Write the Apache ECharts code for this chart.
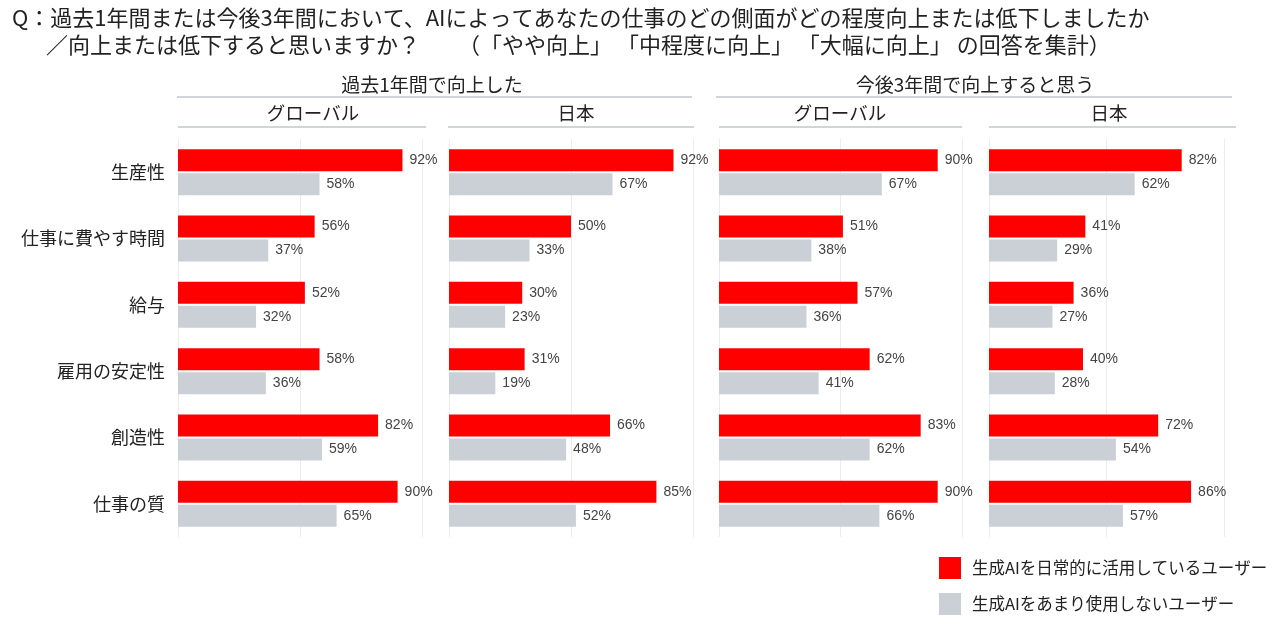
<!DOCTYPE html>
<html>
<head>
<meta charset="utf-8">
<script src="https://cdn.jsdelivr.net/npm/echarts@6/dist/echarts.min.js"></script>
<style>
  html, body { margin: 0; padding: 0; background: #fff; }
  #main, #main canvas { width: 1280px; height: 624px; text-spacing-trim: space-all; }
</style>
</head>
<body>
<div id="main"></div>
<script>
var categories = ['生産性', '仕事に費やす時間', '給与', '雇用の安定性', '創造性', '仕事の質'];
var seriesNames = ['生成AIを日常的に活用しているユーザー', '生成AIをあまり使用しないユーザー'];

// 過去1年間で向上した
var pastGlobalDaily = [92, 56, 52, 58, 82, 90];
var pastGlobalRare = [58, 37, 32, 36, 59, 65];
var pastJapanDaily = [92, 50, 30, 31, 66, 85];
var pastJapanRare = [67, 33, 23, 19, 48, 52];
// 今後3年間で向上すると思う
var futureGlobalDaily = [90, 51, 57, 62, 83, 90];
var futureGlobalRare = [67, 38, 36, 41, 62, 66];
var futureJapanDaily = [82, 41, 36, 40, 72, 86];
var futureJapanRare = [62, 29, 27, 28, 54, 57];

var panelData = [
  [pastGlobalDaily, pastGlobalRare],
  [pastJapanDaily, pastJapanRare],
  [futureGlobalDaily, futureGlobalRare],
  [futureJapanDaily, futureJapanRare]
];

var RED = '#ff0000';
var GREY = '#cbd0d7';
var JP = '"Noto Sans CJK JP", sans-serif';

var myChart = echarts.init(document.getElementById('main'));

var gridBoxes = [[178, 422], [449, 693], [719, 962], [989, 1224]];
var grids = [], xAxes = [], yAxes = [], series = [];

gridBoxes.forEach(function (b, i) {
  grids.push({ left: b[0], width: b[1] - b[0], top: 139, height: 398 });
  xAxes.push({
    type: 'value', gridIndex: i, min: 0, max: 100, interval: 50,
    axisLabel: { show: false }, axisLine: { show: false }, axisTick: { show: false },
    splitLine: { lineStyle: { color: '#ececec', width: 1 } }
  });
  yAxes.push({
    type: 'category', gridIndex: i, inverse: true, data: categories,
    axisLine: { show: false }, axisTick: { show: false },
    axisLabel: { show: i === 0, fontSize: 18, color: '#222', fontFamily: JP, margin: 13 }
  });
  panelData[i].forEach(function (vals, k) {
    series.push({
      name: seriesNames[k], type: 'bar', xAxisIndex: i, yAxisIndex: i,
      data: vals, barWidth: 22, barGap: '9%',
      itemStyle: { color: k === 0 ? RED : GREY },
      label: {
        show: true, position: 'right', distance: 7, formatter: '{c}%',
        fontSize: 14, color: '#444', fontFamily: '"Liberation Sans", Arial, sans-serif'
      }
    });
  });
});

function hText(txt, x, y, size) {
  return { type: 'text', style: { text: txt, x: x, y: y, align: 'center', verticalAlign: 'middle', font: size + 'px ' + JP, fill: '#222' } };
}
function hLine(x1, x2, y) {
  return { type: 'line', shape: { x1: x1, y1: y, x2: x2, y2: y }, style: { stroke: '#c3c6cf', lineWidth: 1.5 } };
}

var graphics = [
  { type: 'text', style: { text: 'Q：過去1年間または今後3年間において、AIによってあなたの仕事のどの側面がどの程度向上または低下しましたか', x: 12, y: 18, verticalAlign: 'middle', font: '22px ' + JP, fill: '#222' } },
  { type: 'text', style: { text: '／向上または低下すると思いますか？', x: 46, y: 45, verticalAlign: 'middle', font: '22px ' + JP, fill: '#222' } },
  { type: 'text', style: { text: '（「やや向上」 「中程度に向上」 「大幅に向上」 の回答を集計）', x: 458, y: 45, verticalAlign: 'middle', font: '22px ' + JP, fill: '#222' } },
  hText('過去1年間で向上した', 432, 85, 19),
  hLine(177, 692, 97),
  hText('今後3年間で向上すると思う', 975, 85, 19),
  hLine(716, 1232, 97),
  hText('グローバル', 313, 113, 18.5),
  hLine(178, 426, 127),
  hText('日本', 576, 113, 18.5),
  hLine(448, 694, 127),
  hText('グローバル', 840, 113, 18.5),
  hLine(719, 962, 127),
  hText('日本', 1109, 113, 18.5),
  hLine(989, 1236, 127)
];

var option = {
  animation: false,
  textStyle: { fontFamily: JP },
  grid: grids,
  xAxis: xAxes,
  yAxis: yAxes,
  series: series,
  legend: {
    data: seriesNames, orient: 'vertical', left: 939, top: 557,
    icon: 'rect', itemWidth: 22, itemHeight: 22, itemGap: 14, padding: 0,
    selectedMode: false,
    textStyle: { fontSize: 16.5, color: '#222', fontFamily: JP, padding: [0, 0, 0, 6] }
  },
  graphic: graphics
};

myChart.setOption(option);
</script>
</body>
</html>
